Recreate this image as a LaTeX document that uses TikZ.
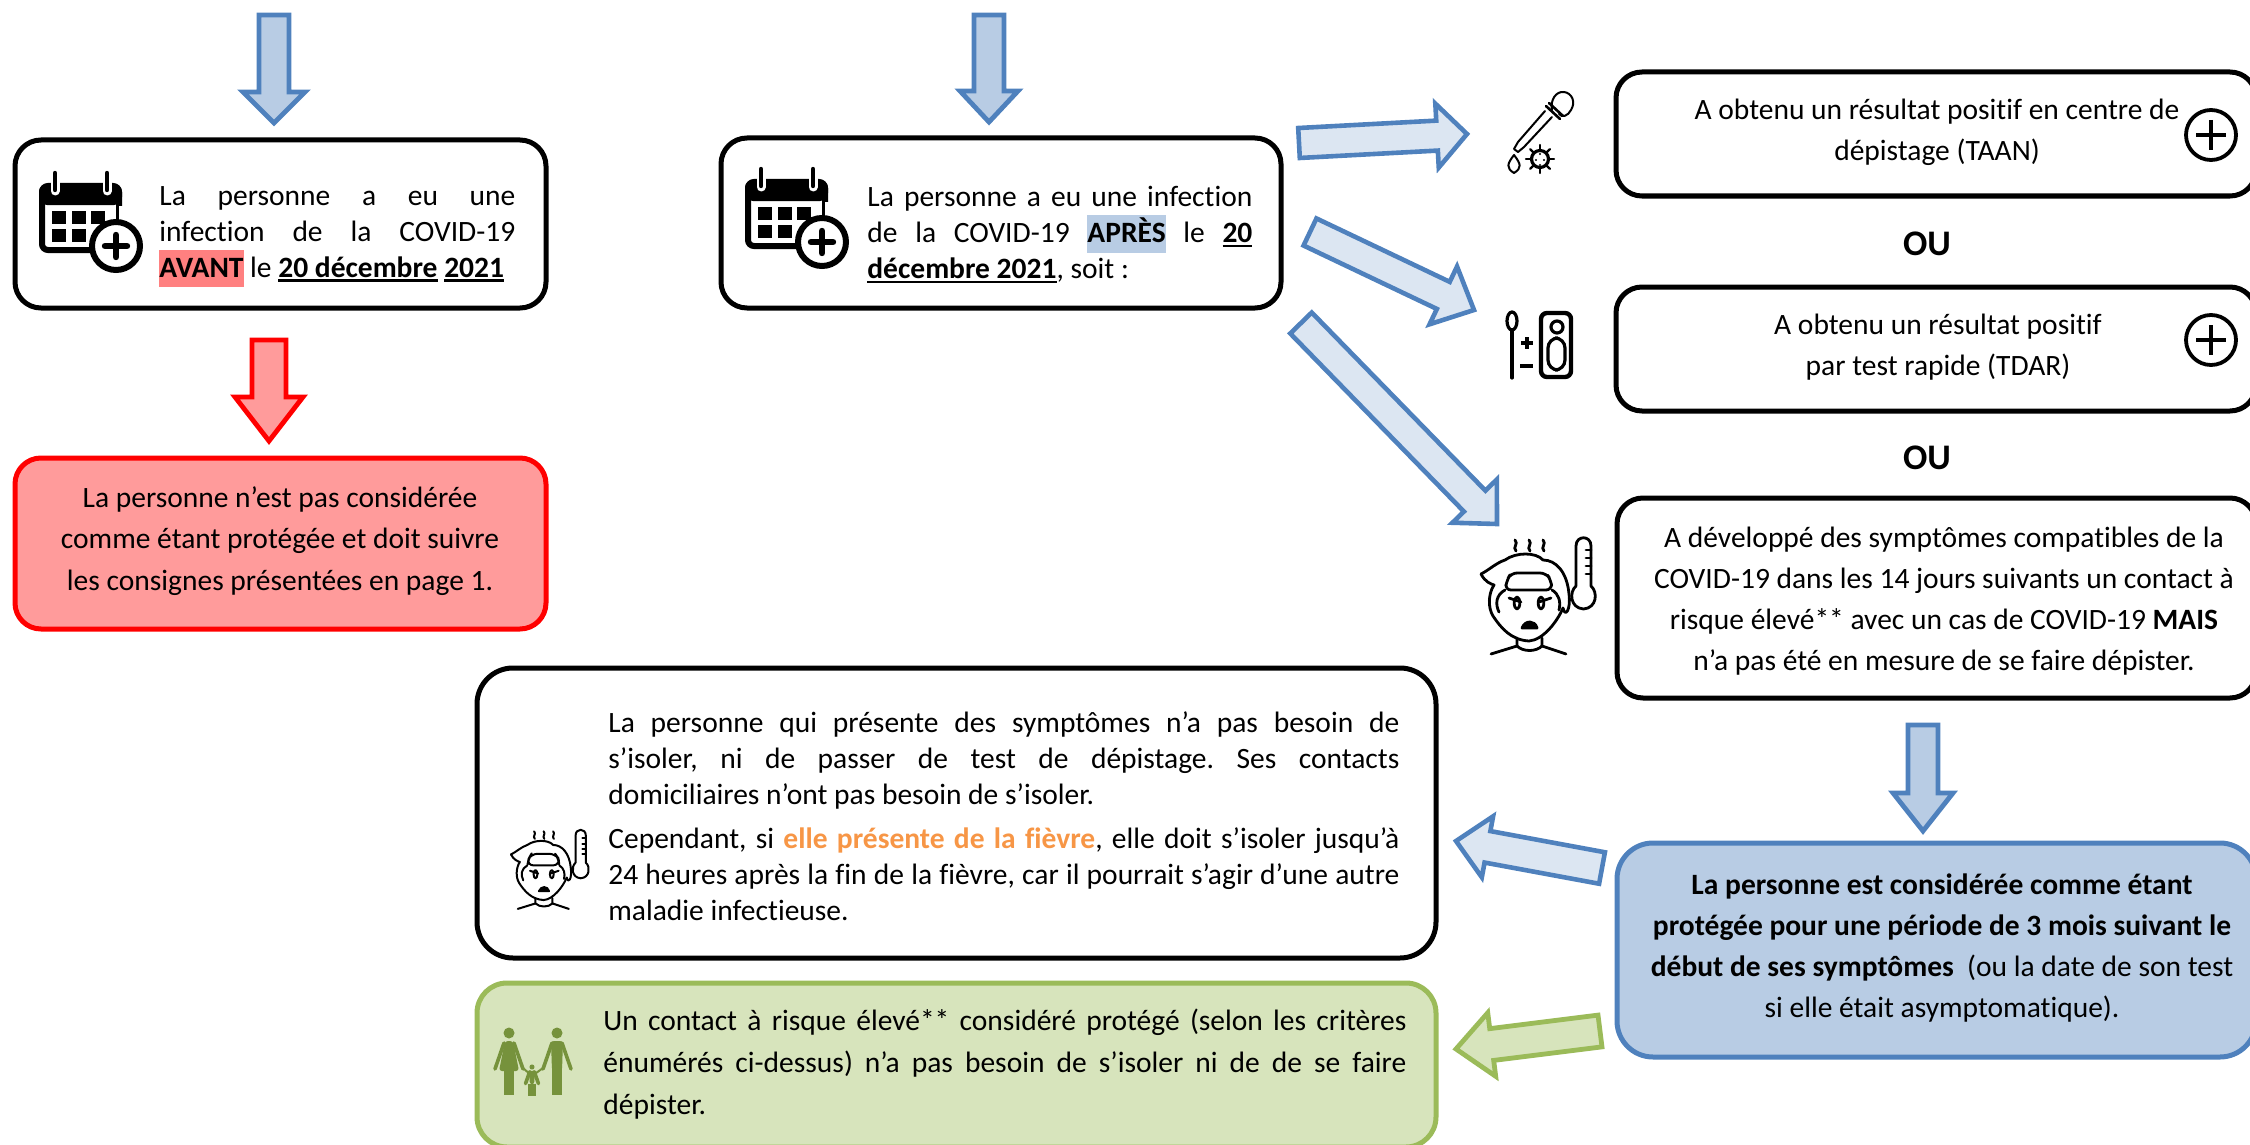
\documentclass[tikz,border=0pt]{standalone}
\usepackage{fontspec}
\setmainfont{Carlito}[Ligatures=NoCommon]
\usetikzlibrary{calc}
\definecolor{bstroke}{HTML}{4F81BD}
\definecolor{bdark}{HTML}{B8CCE4}
\definecolor{blight}{HTML}{DCE6F2}
\definecolor{gstroke}{HTML}{9BBB59}
\definecolor{glight}{HTML}{D7E4BC}
\definecolor{gicon}{HTML}{76923C}
\definecolor{rfill}{HTML}{FF9B9B}
\definecolor{rhl}{HTML}{FF8080}
\definecolor{orangetxt}{HTML}{F79646}
\frenchspacing
\newcommand{\jl}[2]{\makebox[#1][s]{#2}}
\newcommand{\hlt}[2]{{\setlength{\fboxsep}{0pt}\colorbox{#1}{\rule[-4.8pt]{0pt}{18.6pt}#2}}}
\newcommand{\ulb}[1]{{\sbox0{\textbf{#1}}\rlap{\rule[-2.2pt]{\wd0}{1.1pt}}\usebox0}}
\newcommand{\blockarrow}[6]{%
  \coordinate (ba) at ($(#3)!#6!(#2)$);
  \draw[#1] ($(#2)!#4!90:(#3)$) -- ($(ba)!#4!90:(#3)$) -- ($(ba)!#5!90:(#3)$) -- (#3)
    -- ($(ba)!#5!-90:(#3)$) -- ($(ba)!#4!-90:(#3)$) -- ($(#2)!#4!-90:(#3)$) -- cycle;}
% calendar, origin at its top left (39,172)
\newcommand{\calicon}[2]{%
\begin{scope}[shift={(#1,#2)}]
  \draw[line width=3pt,rounded corners=3pt] (3,14) rectangle (80,78);
  \fill[rounded corners=4pt] (0,12) rectangle (83,33);
  \fill[white] (58,60) rectangle (90,85);
  \fill[white] (80,34) rectangle (90,60);
  \foreach \u in {16,68}{\draw[white,line width=4.5pt,line cap=round] (\u,3) -- (\u,19);
    \draw[line width=2.2pt,line cap=round] (\u,1) -- (\u,18);}
  \foreach \u in {13,33,52}{\fill (\u,39) rectangle ++(14,13);}
  \foreach \u in {13,33}{\fill (\u,57) rectangle ++(14,13);}
  \draw[line width=3pt,fill=white] (77,74) circle (24);
  \draw[line width=3.2pt,line cap=round] (66,74) -- (88,74) (77,63) -- (77,85);
\end{scope}}
% sick person, origin at top left (1481,538)
\newcommand{\sick}[4]{%
\begin{scope}[shift={(#1,#2)},scale=#3,line width=#4,line cap=round,line join=round]
  \foreach \u in {35,49,63}{\draw (\u,13) .. controls (\u-4,9) and (\u+3,6) .. (\u-1,2);}
  \draw (0,36) .. controls (8,32) and (15,25) .. (24,22) .. controls (35,14) and (55,14) .. (62,22)
    .. controls (75,22) and (86,34) .. (88,56) .. controls (90,72) and (84,80) .. (82,70);
  \draw (0,36) .. controls (4,44) and (10,46) .. (13,47) .. controls (7,56) and (7,70) .. (12,78)
    .. controls (20,90) and (30,102) .. (48,103) .. controls (62,102) and (76,84) .. (82,70);
  \draw[rounded corners=3pt] (26,42) -- (30,35) -- (65,35) -- (70,42) -- (71,52) -- (24,52) -- cycle;
  \draw (24,52) .. controls (15,57) and (14,66) .. (18,74);
  \draw (71,52) .. controls (78,56) and (80,64) .. (78,72);
  \draw (28,60) -- (40,64) (70,60) -- (58,64);
  \draw (36,65) ellipse (2.8 and 6) (60,65) ellipse (2.8 and 6);
  \draw[fill=black] (41,90) .. controls (44,82) and (54,82) .. (56,90) -- cycle;
  \draw (36,100) -- (36,108) -- (10,116) (61,100) -- (61,108) -- (85,116);
  \draw (36,108) .. controls (42,114) and (55,114) .. (61,108);
  \draw (95,48) -- (95,8) .. controls (95,-3) and (110,-3) .. (110,8) -- (110,48)
    .. controls (117,54) and (116,70) .. (102.5,71) .. controls (89,70) and (88,54) .. (95,48);
  \draw (110,12) -- (105,12) (110,20) -- (105,20) (110,28) -- (105,28) (110,36) -- (105,36);
\end{scope}}
\newcommand{\person}[4]{% x, head y, scale, skirt flag
\begin{scope}[shift={(#1,#2)},scale=#3,gicon]
  \fill (0,0) circle (5.5);
  \ifnum#4=1
    \fill[rounded corners=1.5pt] (-4,8) -- (4,8) -- (10,38) -- (-10,38) -- cycle;
  \else
    \fill[rounded corners=1.5pt] (-6,8) -- (6,8) -- (5,38) -- (-5,38) -- cycle;
  \fi
  \draw[line width=1.8pt,line cap=round] (-5,10) -- (-14,36) (5,10) -- (14,36);
  \draw[line width=2.4pt] (-2.6,36) -- (-2.6,62) (2.6,36) -- (2.6,62);
\end{scope}}
\begin{document}
\begin{tikzpicture}[x=0.5pt,y=-0.5pt,
  txt/.style={inner sep=0pt,font=\fontsize{14.75}{18}\selectfont,align=left},
  txtw/.style={inner sep=0pt,font=\fontsize{14.75}{20.6}\selectfont,align=center},
  bx/.style={draw=black,line width=2.5pt,fill=white,rounded corners=13pt},
  arrdark/.style={draw=bstroke,fill=bdark,line width=2.4pt,miter limit=10},
  arrlight/.style={draw=bstroke,fill=blight,line width=2.3pt,miter limit=10},
  arrred/.style={draw=red,fill=rfill,line width=2.4pt,miter limit=10},
  arrgreen/.style={draw=gstroke,fill=glight,line width=2.4pt,miter limit=10},
  plusic/.style={draw=black,line width=1.9pt,circle,minimum size=25pt,inner sep=0pt}]
\useasboundingbox (0,0) rectangle (2250,1145);

% boxes
\draw[bx] (15,140) rectangle (546,308);
\draw[bx] (721,138) rectangle (1281,308);
\draw[bx] (1616,72) rectangle (2256,196);
\draw[bx] (1616,287) rectangle (2256,411);
\draw[bx] (1617,498) rectangle (2256,698);
\draw[bx,rounded corners=18pt] (477,668) rectangle (1436,958);
\draw[draw=red,line width=2.5pt,fill=rfill,rounded corners=13pt] (15,458) rectangle (546,629);
\draw[draw=bstroke,line width=2.5pt,fill=bdark,rounded corners=18pt] (1617,843) rectangle (2256,1057);
\draw[draw=gstroke,line width=2.5pt,fill=glight,rounded corners=15pt] (477,983) rectangle (1436,1147);

% arrows
\coordinate (a1t) at (274,15); \coordinate (a1h) at (274,123);
\blockarrow{arrdark}{a1t}{a1h}{7.5pt}{15.5pt}{15.5pt}
\coordinate (a2t) at (989,15); \coordinate (a2h) at (989,122);
\blockarrow{arrdark}{a2t}{a2h}{7.5pt}{14.5pt}{15.5pt}
\coordinate (a3t) at (269,340); \coordinate (a3h) at (269,441);
\blockarrow{arrred}{a3t}{a3h}{8.5pt}{17pt}{22pt}
\coordinate (r1t) at (1299,143); \coordinate (r1h) at (1467,134);
\blockarrow{arrlight}{r1t}{r1h}{7.5pt}{16pt}{15pt}
\coordinate (r2t) at (1310,232); \coordinate (r2h) at (1474,310);
\blockarrow{arrlight}{r2t}{r2h}{7.5pt}{16pt}{17pt}
\coordinate (r3t) at (1301,323); \coordinate (r3h) at (1497,524);
\blockarrow{arrlight}{r3t}{r3h}{7.5pt}{15.5pt}{16pt}
\coordinate (d1t) at (1923,725); \coordinate (d1h) at (1923,831);
\blockarrow{arrdark}{d1t}{d1h}{7.5pt}{15pt}{19pt}
\coordinate (l1t) at (1602,868); \coordinate (l1h) at (1456,841);
\blockarrow{arrlight}{l1t}{l1h}{8pt}{15.5pt}{16pt}
\coordinate (l2t) at (1600,1031); \coordinate (l2h) at (1456,1049);
\blockarrow{arrgreen}{l2t}{l2h}{8pt}{16pt}{18pt}

% texts
\node[txt,anchor=west] (ta) at (159,236.5) {\jl{178pt}{La personne a eu une}\\\jl{178pt}{infection de la COVID-19}\\\hlt{rhl}{\textbf{AVANT}} le \ulb{20 décembre} \ulb{2021}};
\node[txt,anchor=west] (tb) at (867,235) {\jl{192.5pt}{La personne a eu une infection}\\\jl{192.5pt}{de la COVID-19 \hlt{bdark}{\textbf{APRÈS}} le \ulb{20}}\\\ulb{décembre 2021}, soit :};
\node[txtw] (tr) at (280,541) {La personne n’est pas considérée\\comme étant protégée et doit suivre\\les consignes présentées en page 1.};
\node[txtw] (t1) at (1937,132) {A obtenu un résultat positif en centre de\\dépistage (TAAN)};
\node[txtw] (t2) at (1938,347) {A obtenu un résultat positif\\par test rapide (TDAR)};
\node[txtw] (t3) at (1944,601) {A développé des symptômes compatibles de la\\COVID-19 dans les 14 jours suivants un contact à\\risque élevé** avec un cas de COVID-19 \textbf{MAIS}\\n’a pas été en mesure de se faire dépister.};
\node[txtw] (t4) at (1942,948) {\textbf{La personne est considérée comme étant}\\\textbf{protégée pour une période de 3 mois suivant le}\\\textbf{début de ses symptômes}\ \ (ou la date de son test\\si elle était asymptomatique).};
\node[inner sep=0pt,font=\fontsize{18}{20}\selectfont\bfseries] (ou1) at (1927,244) {OU};
\node[inner sep=0pt,font=\fontsize{18}{20}\selectfont\bfseries] (ou2) at (1927,458) {OU};
\node[txt,anchor=west] (t5) at (608,816) {\jl{395.5pt}{La personne qui présente des symptômes n’a pas besoin de}\\\jl{395.5pt}{s’isoler, ni de passer de test de dépistage. Ses contacts}\\domiciliaires n’ont pas besoin de s’isoler.\\[4pt]\jl{395.5pt}{Cependant, si \textcolor{orangetxt}{\textbf{elle présente de la fièvre}}, elle doit s’isoler jusqu’à}\\\jl{395.5pt}{24 heures après la fin de la fièvre, car il pourrait s’agir d’une autre}\\maladie infectieuse.};
\node[txt,anchor=west,font=\fontsize{14.75}{21.2}\selectfont] (t6) at (603,1064) {\jl{401.5pt}{Un contact à risque élevé** considéré protégé (selon les critères}\\\jl{401.5pt}{énumérés ci-dessus) n’a pas besoin de s’isoler ni de de se faire}\\dépister.};

% plus icons
\node[plusic] (p1) at (2211,135) {};
\draw[line width=1.9pt] ($(p1)+(-15,0)$) -- ($(p1)+(15,0)$) ($(p1)+(0,-15)$) -- ($(p1)+(0,15)$);
\node[plusic] (p2) at (2211,340) {};
\draw[line width=1.9pt] ($(p2)+(-15,0)$) -- ($(p2)+(15,0)$) ($(p2)+(0,-15)$) -- ($(p2)+(0,15)$);

% calendars
\calicon{39}{172}
\calicon{745}{168}

% dropper
\begin{scope}[line width=1pt,line join=round,line cap=round]
  \draw (1552,110) .. controls (1550,100) and (1556,91) .. (1564,92) .. controls (1572,93) and (1576,102) .. (1571,110) .. controls (1568,116) and (1562,118) .. (1559,114);
  \draw[line width=1.3pt] (1546,106) -- (1560,119) (1549,103) -- (1563,116);
  \draw (1552,117) -- (1524,147) -- (1518,152) -- (1514,149) -- (1518,142) -- (1545,111);
  \draw (1514,173) .. controls (1506,168) and (1507,164) .. (1514,155) .. controls (1521,164) and (1522,168) .. (1514,173);
  \draw[line width=1.6pt] (1540,159) circle (8.5);
  \foreach \a in {0,45,...,315}{\draw[line width=1.2pt] (1540,159) ++(\a:9) -- ++(\a:5);}
  \fill (1540,154) circle (1.2) (1536,160) circle (1.2) (1544,160) circle (1.2) (1540,165) circle (1.2);
\end{scope}

% swab and cassette
\begin{scope}[line width=1.6pt,line cap=round]
  \draw (1512,321) ellipse (5 and 9);
  \draw (1512,330) -- (1512,378);
  \draw[line width=2.2pt,line cap=butt] (1521,343) -- (1533,343) (1527,337) -- (1527,349);
  \draw[line width=2.2pt,line cap=butt] (1520,366) -- (1533,366);
  \draw[line width=2.2pt,rounded corners=3pt] (1541,313) rectangle (1571,377);
  \draw (1557,327) circle (6);
  \draw[rounded corners=5pt] (1548,338) rectangle (1565,370);
\end{scope}

% sick people
\sick{1481}{538}{1}{1.4pt}
\sick{511}{830}{0.68}{1pt}

% family
\person{509}{1033}{1}{1}
\person{557}{1033}{1}{0}
\person{532}{1067}{0.46}{0}
\draw[gicon,line width=1pt,line cap=round] (523,1068) -- (532,1076) -- (543,1068);
\end{tikzpicture}
\end{document}
